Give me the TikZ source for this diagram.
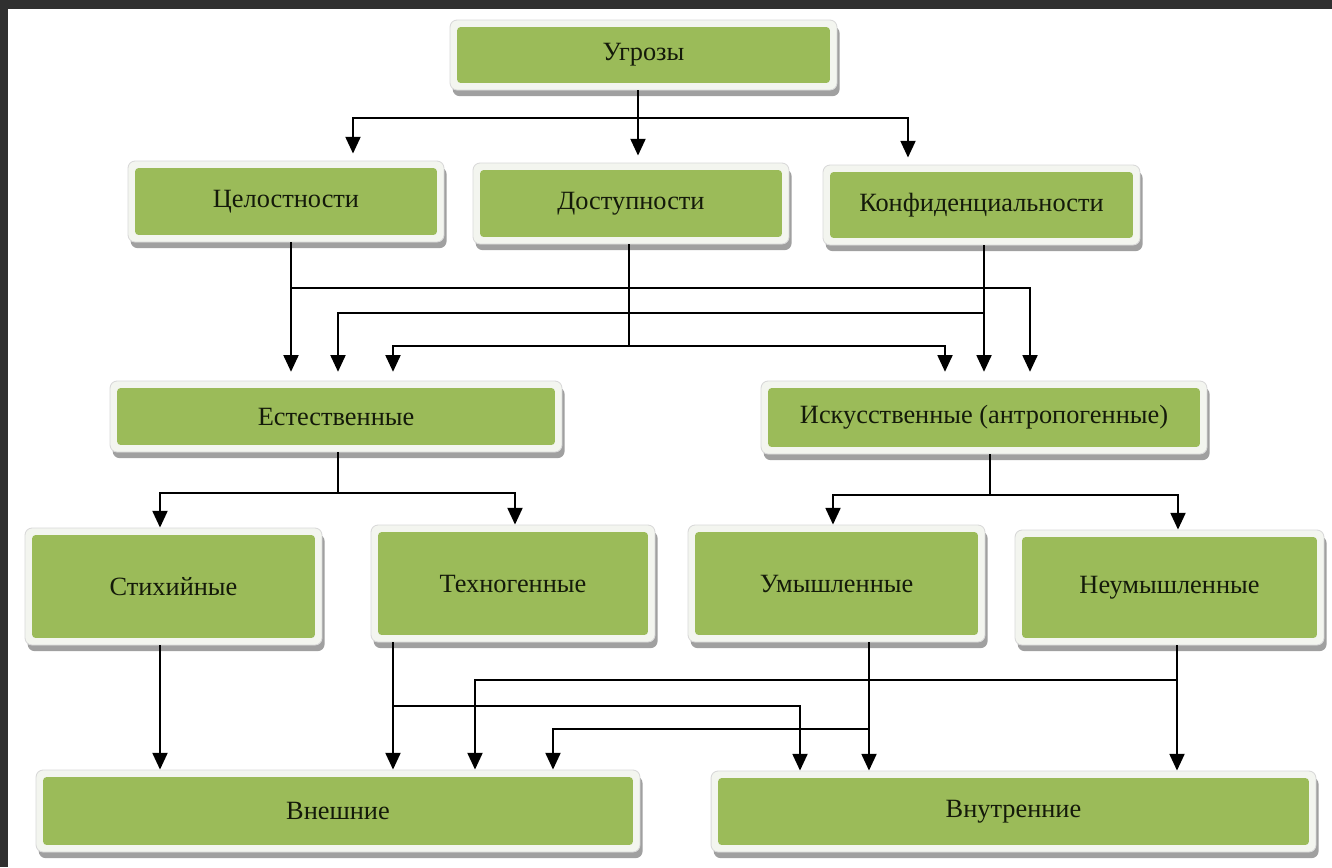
\documentclass[tikz,border=0pt]{standalone}
\usepackage{fontspec}
\setmainfont{Liberation Serif}
\usetikzlibrary{arrows.meta,shadows}

\definecolor{boxgreen}{HTML}{9BBB59}
\definecolor{framewhite}{HTML}{F3F5EF}
\definecolor{shadowgray}{HTML}{A0A0A0}
\definecolor{textdark}{HTML}{141A0A}
\definecolor{bezel}{HTML}{303030}

\tikzset{
  box/.style={rectangle, rounded corners=4pt, draw=gray!30, line width=0.5pt,
    fill=framewhite, inner sep=0pt, text=textdark,
    font=\fontsize{15}{17}\selectfont,
    drop shadow={shadow xshift=1.5pt, shadow yshift=-3.5pt, fill=shadowgray, opacity=1},
    path picture={\fill[boxgreen, rounded corners=2pt]
      ([shift={(4pt,-4pt)}]path picture bounding box.north west) rectangle
      ([shift={(-4pt,4pt)}]path picture bounding box.south east);}},
  arr/.style={draw=black, line width=1.2pt, -{Triangle[width=8.5pt,length=9.5pt]}},
}

\begin{document}
\begin{tikzpicture}[x=0.02cm, y=-0.02cm]
\useasboundingbox (0,0) rectangle (1332,867);
\fill[white] (0,0) rectangle (1332,867);
% screen edge
\fill[bezel] (0,0) rectangle (1332,9);
\fill[bezel] (0,0) rectangle (8,867);

% boxes
\node[box, minimum width=7.74cm, minimum height=1.40cm] (ugr) at (643.5,55) {Угрозы};

\node[box, minimum width=6.32cm, minimum height=1.62cm] (cel) at (286,201.5) {Целостности};
\node[box, minimum width=6.32cm, minimum height=1.62cm] (dos) at (631,203.5) {Доступности};
\node[box, minimum width=6.34cm, minimum height=1.60cm] (kon) at (981.5,205) {Конфиденциальности};

\node[box, minimum width=9.04cm, minimum height=1.42cm] (est) at (336,416.5) {Естественные};
\node[box, minimum width=8.92cm, minimum height=1.46cm] (isk) at (984,417.5) {Искусственные (антропогенные)};

\node[box, minimum width=5.94cm, minimum height=2.34cm] (sti) at (173.5,586.5) {Стихийные};
\node[box, minimum width=5.68cm, minimum height=2.34cm] (tex) at (513,583.5) {Техногенные};
\node[box, minimum width=5.94cm, minimum height=2.34cm] (umy) at (836.5,583.5) {Умышленные};
\node[box, minimum width=6.18cm, minimum height=2.30cm] (neu) at (1169.5,587.5) {Неумышленные};

\node[box, minimum width=12.08cm, minimum height=1.64cm] (vne) at (338,811) {Внешние};
\node[box, minimum width=12.10cm, minimum height=1.62cm] (vnu) at (1013.5,811.5) {Внутренние};

% first level
\draw[arr, shorten >=4pt] (ugr.south -| 638,0) |- (353,118) -- (cel.north -| 353,0);
\draw[arr, shorten >=4pt] (ugr.south -| 638,0) -- (dos.north -| 638,0);
\draw[arr, shorten >=4pt] (ugr.south -| 638,0) |- (908,118) -- (kon.north -| 908,0);

% second level
\draw[arr, shorten >=5pt] (cel.south -| 291,0) -- (est.north -| 291,0);
\draw[arr, shorten >=5pt] (cel.south -| 291,0) |- (1030,288) -- (isk.north -| 1030,0);
\draw[arr, shorten >=5pt] (dos.south -| 629,0) |- (393,346) -- (est.north -| 393,0);
\draw[arr, shorten >=5pt] (dos.south -| 629,0) |- (945,346) -- (isk.north -| 945,0);
\draw[arr, shorten >=5pt] (kon.south -| 984,0) -- (isk.north -| 984,0);
\draw[arr, shorten >=5pt] (kon.south -| 984,0) |- (338,313) -- (est.north -| 338,0);

% third level
\draw[arr] (est.south -| 338,0) |- (160,493) -- (sti.north -| 160,0);
\draw[arr] (est.south -| 338,0) |- (515,493) -- (tex.north -| 515,0);
\draw[arr] (isk.south -| 990,0) |- (833,495) -- (umy.north -| 833,0);
\draw[arr] (isk.south -| 990,0) |- (1178,495) -- (neu.north -| 1178,0);

% fourth level
\draw[arr] (sti.south -| 160,0) -- (vne.north -| 160,0);
\draw[arr] (tex.south -| 393,0) -- (vne.north -| 393,0);
\draw[arr] (tex.south -| 393,0) |- (800,706) -- (vnu.north -| 800,0);
\draw[arr] (umy.south -| 869,0) -- (vnu.north -| 869,0);
\draw[arr] (umy.south -| 869,0) |- (553,729) -- (vne.north -| 553,0);
\draw[arr] (neu.south -| 1177,0) -- (vnu.north -| 1177,0);
\draw[arr] (neu.south -| 1177,0) |- (475,680) -- (vne.north -| 475,0);
\end{tikzpicture}
\end{document}
